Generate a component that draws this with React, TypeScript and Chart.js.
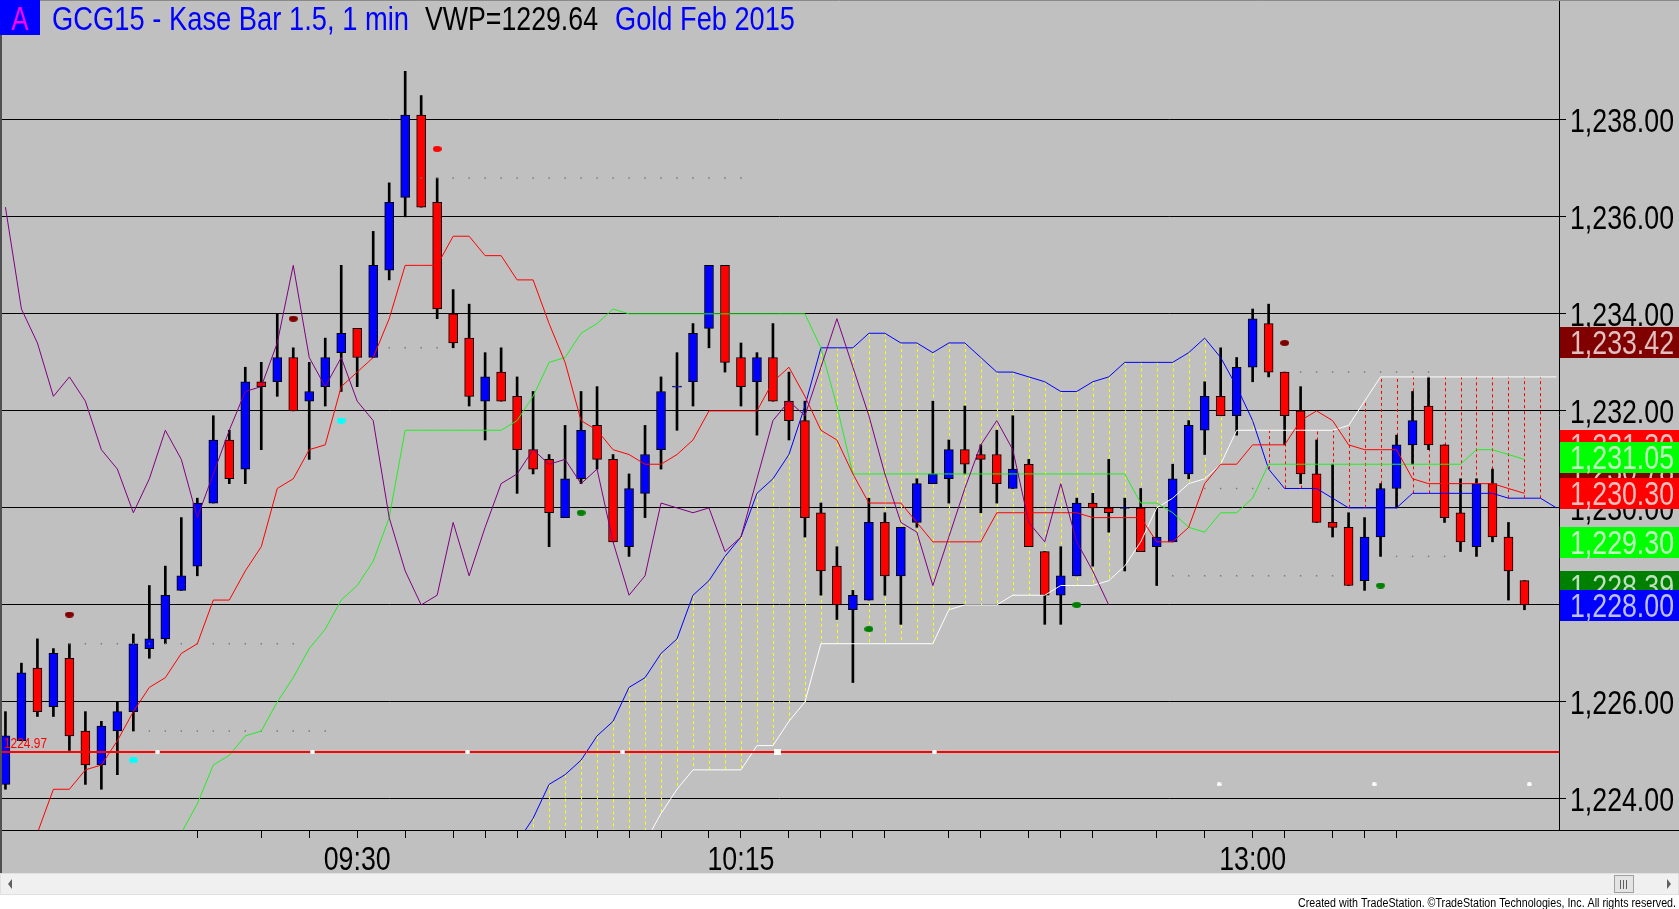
import React, { useEffect, useRef } from 'react';
import Chart from 'chart.js/auto';

const W = 1679;
const H = 909;
const FONT = "'Liberation Sans', Arial, sans-serif";

// Kase bars (one slot per bar index)
const opens = [
  1224.3, 1225.2, 1226.7, 1225.9, 1226.9, 1225.4, 1224.7, 1225.4, 1225.8, 1227.1,
  1227.3, 1228.3, 1228.8, 1230.1, 1231.4, 1230.8, 1232.6, 1232.6, 1233.1, 1232.2,
  1232.5, 1233.2, 1233.7, 1233.1, 1234.9, 1236.4, 1238.1, 1236.3, 1234.0, 1233.5,
  1232.2, 1232.8, 1232.3, 1231.2, 1231.0, 1229.8, 1230.6, 1231.7, 1231.0, 1229.2,
  1230.3, 1231.2, 1232.5, 1232.6, 1233.7, 1235.0, 1233.1, 1232.6, 1233.1, 1232.2,
  1231.8, 1229.9, 1228.8, 1227.9, 1228.1, 1229.7, 1228.6, 1229.7, 1230.5, 1230.6,
  1231.2, 1231.1, 1231.1, 1230.4, 1230.9, 1229.1, 1228.2, 1228.6, 1230.1, 1230.0,
  1230.0, 1230.0, 1229.2, 1229.3, 1230.7, 1231.6, 1232.3, 1231.9, 1232.9, 1233.8,
  1232.8, 1232.0, 1230.7, 1229.7, 1229.6, 1228.5, 1229.4, 1230.4, 1231.3, 1232.1,
  1231.3, 1229.9, 1229.2, 1230.5, 1229.4, 1228.5,
];
const highs = [
  1225.8, 1226.8, 1227.3, 1227.1, 1227.2, 1225.8, 1225.6, 1226.0, 1227.4, 1228.4,
  1228.8, 1229.8, 1230.2, 1231.9, 1231.6, 1232.9, 1233.0, 1234.0, 1233.3, 1233.0,
  1233.5, 1235.0, 1233.7, 1235.7, 1236.7, 1239.0, 1238.5, 1236.8, 1234.5, 1234.2,
  1233.2, 1233.3, 1232.7, 1232.4, 1231.1, 1231.7, 1232.4, 1232.5, 1231.1, 1230.7,
  1231.7, 1232.7, 1233.2, 1233.8, 1235.0, 1235.0, 1233.4, 1233.2, 1233.8, 1232.8,
  1232.2, 1230.1, 1229.2, 1228.3, 1230.2, 1229.9, 1229.6, 1230.6, 1232.2, 1231.4,
  1232.1, 1231.3, 1231.6, 1231.9, 1231.0, 1229.1, 1229.2, 1230.2, 1230.3, 1231.0,
  1230.2, 1230.4, 1230.0, 1230.9, 1231.8, 1232.6, 1233.3, 1233.1, 1234.1, 1234.2,
  1232.8, 1232.5, 1231.4, 1230.9, 1229.9, 1229.8, 1230.5, 1231.5, 1232.4, 1232.7,
  1231.3, 1230.6, 1230.6, 1230.8, 1229.7, 1228.5,
];
const lows = [
  1224.2, 1225.2, 1225.7, 1225.7, 1225.0, 1224.3, 1224.2, 1224.5, 1225.4, 1226.9,
  1227.2, 1228.3, 1228.6, 1230.1, 1230.5, 1230.5, 1231.2, 1232.3, 1232.0, 1231.0,
  1232.1, 1232.4, 1232.5, 1233.1, 1234.7, 1236.0, 1236.2, 1233.9, 1233.3, 1232.1,
  1231.4, 1232.2, 1230.3, 1230.7, 1229.2, 1229.8, 1230.5, 1230.8, 1229.3, 1229.0,
  1229.8, 1230.8, 1231.6, 1232.1, 1233.3, 1232.8, 1232.1, 1231.5, 1232.2, 1231.4,
  1229.4, 1228.2, 1227.7, 1226.4, 1228.1, 1228.2, 1227.6, 1229.6, 1230.5, 1230.1,
  1230.7, 1229.9, 1230.1, 1230.4, 1229.2, 1227.6, 1227.6, 1228.6, 1228.8, 1229.5,
  1228.7, 1229.1, 1228.4, 1229.3, 1230.6, 1231.1, 1231.9, 1231.5, 1232.6, 1232.7,
  1231.3, 1230.5, 1229.7, 1229.4, 1228.4, 1228.3, 1229.0, 1230.0, 1230.9, 1231.2,
  1229.7, 1229.1, 1229.0, 1229.3, 1228.1, 1227.9,
];
const closes = [
  1225.3, 1226.6, 1225.8, 1227.0, 1225.3, 1224.7, 1225.5, 1225.8, 1227.2, 1227.3,
  1228.2, 1228.6, 1230.1, 1231.4, 1230.6, 1232.6, 1232.5, 1233.1, 1232.0, 1232.4,
  1233.1, 1233.6, 1233.1, 1235.0, 1236.3, 1238.1, 1236.2, 1234.1, 1233.4, 1232.3,
  1232.7, 1232.2, 1231.2, 1230.8, 1229.9, 1230.6, 1231.6, 1231.0, 1229.3, 1230.4,
  1231.1, 1232.4, 1232.5, 1233.6, 1235.0, 1233.0, 1232.5, 1233.1, 1232.2, 1231.8,
  1229.8, 1228.7, 1228.0, 1228.2, 1229.7, 1228.6, 1229.6, 1230.5, 1230.7, 1231.2,
  1230.9, 1231.0, 1230.5, 1230.8, 1229.2, 1228.2, 1228.6, 1230.1, 1230.0, 1229.9,
  1230.0, 1229.1, 1229.4, 1230.6, 1231.7, 1232.3, 1231.9, 1232.9, 1233.9, 1232.8,
  1231.9, 1230.7, 1229.7, 1229.6, 1228.4, 1229.4, 1230.4, 1231.3, 1231.8, 1231.3,
  1229.8, 1229.3, 1230.5, 1229.4, 1228.7, 1228.0,
];

// indicator lines, each starting at bar "...From"
const purpleFrom = 0;
const purple = [
  1236.2, 1234.1, 1233.4, 1232.3, 1232.7, 1232.2, 1231.2, 1230.8, 1229.9, 1230.6,
  1231.6, 1231.0, 1229.8, 1230.7, 1231.6, 1232.4, 1232.5, 1233.4, 1235.0, 1233.1,
  1232.5, 1233.1, 1232.2, 1231.8, 1229.8, 1228.7, 1228.0, 1228.2, 1229.7, 1228.6,
  1229.6, 1230.5, 1230.7, 1231.2, 1230.9, 1231.0, 1230.5, 1230.8, 1229.3, 1228.2,
  1228.6, 1230.1, 1230.0, 1229.9, 1230.0, 1229.1, 1229.4, 1230.6, 1231.8, 1232.2,
  1231.9, 1232.9, 1233.9, 1232.9, 1231.9, 1230.7, 1229.7, 1229.5, 1228.4, 1229.4,
  1230.4, 1231.3, 1231.8, 1231.2, 1229.7, 1229.3, 1230.5, 1229.3, 1228.7, 1228.0,
];
const redFrom = 2;
const redLine = [
  1223.3, 1224.2, 1224.2, 1224.6, 1224.7, 1225.2, 1225.8, 1226.3,
  1226.5, 1227.0, 1227.2, 1228.1, 1228.1, 1228.7, 1229.2, 1230.4, 1230.6, 1231.2,
  1231.3, 1232.5, 1232.8, 1233.1, 1233.9, 1235.0, 1235.0, 1235.0, 1235.6, 1235.6,
  1235.2, 1235.2, 1234.7, 1234.7, 1233.8, 1233.0, 1231.8, 1231.6, 1231.2, 1231.1,
  1230.9, 1230.9, 1231.1, 1231.4, 1232.0, 1232.0, 1232.0, 1232.0, 1232.6, 1232.9,
  1232.3, 1231.6, 1231.4, 1230.7, 1230.1, 1230.1, 1230.1, 1229.7, 1229.3, 1229.3,
  1229.3, 1229.3, 1229.9, 1229.9, 1229.9, 1229.9, 1229.9, 1229.9, 1229.8, 1229.8,
  1229.8, 1229.8, 1229.3, 1229.3, 1229.6, 1230.5, 1230.9, 1230.9, 1231.3, 1231.3,
  1231.3, 1231.8, 1232.0, 1231.8, 1231.3, 1231.2, 1231.2, 1231.2, 1230.6, 1230.5,
  1230.5, 1230.5, 1230.5, 1230.5, 1230.4, 1230.3,
];
const greenFrom = 11;
const greenLine = [
  1223.3, 1223.9, 1224.7, 1224.9, 1225.3, 1225.4, 1226.0, 1226.5, 1227.1,
  1227.5, 1228.1, 1228.4, 1228.9, 1229.8, 1231.6, 1231.6, 1231.6, 1231.6, 1231.6,
  1231.6, 1231.6, 1231.8, 1232.3, 1233.0, 1233.1, 1233.6, 1233.8, 1234.1, 1234.0,
  1234.0, 1234.0, 1234.0, 1234.0, 1234.0, 1234.0, 1234.0, 1234.0, 1234.0, 1234.0,
  1234.0, 1233.3, 1232.1, 1230.7, 1230.7, 1230.7, 1230.7, 1230.7, 1230.7, 1230.7,
  1230.7, 1230.7, 1230.7, 1230.7, 1230.7, 1230.7, 1230.7, 1230.7, 1230.7, 1230.7,
  1230.7, 1230.1, 1230.1, 1229.9, 1229.6, 1229.5, 1229.9, 1229.9, 1230.2, 1230.9,
  1230.9, 1230.9, 1230.9, 1230.9, 1230.9, 1230.9, 1230.9, 1230.9, 1230.9, 1230.9,
  1230.9, 1230.9, 1231.2, 1231.2, 1231.1, 1231.0,
];
const blueFrom = 32;
const blueSpan = [
  1223.1, 1223.6, 1224.3, 1224.5, 1224.8, 1225.3, 1225.6, 1226.3,
  1226.5, 1227.0, 1227.3, 1228.2, 1228.5, 1229.0, 1229.4, 1230.3, 1230.6, 1231.1,
  1232.1, 1233.3, 1233.3, 1233.3, 1233.6, 1233.6, 1233.4, 1233.4, 1233.2, 1233.4,
  1233.4, 1233.1, 1232.8, 1232.8, 1232.7, 1232.6, 1232.4, 1232.4, 1232.6, 1232.7,
  1233.0, 1233.0, 1233.0, 1233.0, 1233.2, 1233.5, 1233.1, 1232.5, 1231.8, 1230.8,
  1230.4, 1230.4, 1230.4, 1230.2, 1230.0, 1230.0, 1230.0, 1230.0, 1230.3, 1230.3,
  1230.3, 1230.3, 1230.3, 1230.3, 1230.2, 1230.2, 1230.2, 1230.0,
];
const whiteFrom = 40;
const whiteSpan = [
  1223.1, 1223.7, 1224.2, 1224.6, 1224.6, 1224.6, 1224.6, 1225.1, 1225.1, 1225.6,
  1226.0, 1227.2, 1227.2, 1227.2, 1227.2, 1227.2, 1227.2, 1227.2, 1227.2, 1227.9,
  1228.0, 1228.0, 1228.0, 1228.2, 1228.2, 1228.2, 1228.4, 1228.4, 1228.4, 1228.5,
  1228.8, 1229.3, 1230.0, 1230.2, 1230.5, 1230.6, 1230.9, 1231.6, 1231.6, 1231.6,
  1231.6, 1231.6, 1231.6, 1231.6, 1231.7, 1232.2, 1232.7, 1232.7, 1232.7, 1232.7,
  1232.7, 1232.7, 1232.7, 1232.7, 1232.7, 1232.7, 1232.7, 1232.7,
];

// axes
const yTicks = [1224, 1226, 1228, 1230, 1232, 1234, 1236, 1238];
const xTickBars = [12, 16, 19, 22, 25, 28, 30, 32, 35, 37, 39, 41, 44, 46, 49, 51, 53, 55, 59, 61, 64, 66, 68, 72, 75, 78, 80, 83, 85, 87];
const timeLabelBars = [22, 46, 78];
const timeLabels = ['09:30', '10:15', '13:00'];

// horizontal level and its markers
const vwapLevel = 1224.97;
const sessionMarkBars = [9.5, 19.2, 28.9, 38.6, 58.1];
const sessionSquareBar = 48.3;
const lateMarkBars = [75.9, 85.6, 95.3];
const lateMarkPrice = 1224.3;

// signal dots
const darkRedDotBars = [4, 18, 80];
const darkRedDotPrices = [1227.8, 1233.9, 1233.4];
const redDotBars = [27];
const redDotPrices = [1237.4];
const greenDotBars = [36, 54, 67, 86];
const greenDotPrices = [1229.9, 1227.5, 1228.0, 1228.4];
const cyanDotBars = [8, 21];
const cyanDotPrices = [1224.8, 1231.8];

// faint dotted levels
const levelPrices = [1236.8, 1227.2, 1225.4, 1233.3, 1232.8, 1228.6, 1229.0, 1230.4];
const levelFrom = [26, 4, 9, 24, 81, 73, 87, 75];
const levelTo = [46, 18, 20, 27, 89, 83, 90, 79];

// price boxes on the right axis (drawing order)
const markValues = [1233.42, 1231.3, 1230.78, 1231.05, 1230.3, 1229.3, 1228.39, 1228.0];
const markColors = ['#800000', '#ff0000', '#800000', '#00ff00', '#ff0000', '#00ff00', '#008000', '#0000ff'];

const fmt = (v: number) => v.toLocaleString('en-US', { minimumFractionDigits: 2, maximumFractionDigits: 2 });

function pts(from: number, arr: number[]) {
  return arr.map((v, i) => ({ x: from + i, y: v }));
}

function valueAt(from: number, arr: number[], i: number) {
  const k = i - from;
  return k >= 0 && k < arr.length ? arr[k] : null;
}

function dot(color: string, w: number, h: number, square = false) {
  const c = document.createElement('canvas');
  c.width = w;
  c.height = h;
  const g = c.getContext('2d')!;
  g.fillStyle = color;
  if (square) {
    g.fillRect(0, 0, w, h);
  } else {
    g.beginPath();
    g.ellipse(w / 2, h / 2, w / 2, h / 2, 0, 0, Math.PI * 2);
    g.fill();
  }
  return c;
}

// TradeStation uses a narrow face; squeeze regular text to the measured width
function text(ctx: any, s: string, x: number, y: number, size: number, width: number, color: string, align = 'left') {
  ctx.font = `${size}px ${FONT}`;
  ctx.fillStyle = color;
  ctx.textAlign = align;
  ctx.textBaseline = 'alphabetic';
  ctx.fillText(s, x, y, width);
}

const chrome = {
  id: 'chrome',
  beforeDraw(chart: any) {
    const { ctx } = chart;
    ctx.save();
    ctx.fillStyle = '#c0c0c0';
    ctx.fillRect(0, 0, W, H);
    ctx.restore();
  },
  beforeDatasetsDraw(chart: any) {
    const { ctx, chartArea: a } = chart;
    const xs = chart.scales.x;
    const ys = chart.scales.y;
    ctx.save();
    ctx.beginPath();
    ctx.rect(a.left, a.top, a.right - a.left, a.bottom - a.top);
    ctx.clip();
    ctx.lineWidth = 1;
    ctx.setLineDash([3, 3]);
    const last = blueFrom + blueSpan.length - 1;
    for (let i = blueFrom; i < last; i++) {
      const b = valueAt(blueFrom, blueSpan, i);
      if (b == null) continue;
      const w = valueAt(whiteFrom, whiteSpan, i);
      const yb = ys.getPixelForValue(b);
      const yw = w == null ? a.bottom : ys.getPixelForValue(w);
      if (Math.abs(yb - yw) < 2) continue;
      ctx.strokeStyle = w == null || b > w ? '#ffff00' : '#ff0000';
      const x = Math.round(xs.getPixelForValue(i)) + 0.5;
      ctx.beginPath();
      ctx.moveTo(x, yb);
      ctx.lineTo(x, yw);
      ctx.stroke();
    }
    ctx.restore();
  },
  afterDraw(chart: any) {
    const { ctx, chartArea: a } = chart;
    const xs = chart.scales.x;
    const ys = chart.scales.y;
    ctx.save();

    // frame bits
    ctx.strokeStyle = '#000';
    ctx.lineWidth = 1;
    ctx.beginPath();
    ctx.moveTo(a.right, Math.round(a.bottom) + 0.5);
    ctx.lineTo(W, Math.round(a.bottom) + 0.5);
    ctx.stroke();
    ctx.strokeStyle = '#8a8a8a';
    ctx.beginPath();
    ctx.moveTo(0, 0.5);
    ctx.lineTo(W, 0.5);
    ctx.stroke();
    ctx.strokeStyle = '#505050';
    ctx.lineWidth = 2;
    ctx.beginPath();
    ctx.moveTo(1, 0);
    ctx.lineTo(1, 873);
    ctx.stroke();

    // axis labels from the scales' ticks
    ys.ticks.forEach((t: any) => {
      text(ctx, fmt(t.value), a.right + 11, ys.getPixelForValue(t.value) + 12, 33, 104, '#000');
    });
    xs.ticks.forEach((t: any) => {
      const k = timeLabelBars.indexOf(t.value);
      if (k >= 0) text(ctx, timeLabels[k], xs.getPixelForValue(t.value), 870, 33, 67, '#000', 'center');
    });

    // level label
    text(ctx, vwapLevel.toFixed(2), 4, ys.getPixelForValue(vwapLevel) - 4, 14, 43, '#ff0000');

    // price boxes
    markValues.forEach((v, k) => {
      const y = ys.getPixelForValue(v);
      ctx.fillStyle = markColors[k];
      ctx.fillRect(a.right + 1, Math.round(y) - 15, W - a.right - 1, 31);
      text(ctx, fmt(v), a.right + 11, y + 12, 33, 104, 'rgba(255,255,255,0.75)');
    });

    // title
    ctx.fillStyle = '#0000ff';
    ctx.fillRect(0, 0, 40, 35);
    text(ctx, 'A', 20, 30, 33, 17, '#ff00ff', 'center');
    text(ctx, 'GCG15 - Kase Bar 1.5, 1 min', 52, 30, 33, 357, '#0000ff');
    text(ctx, 'VWP=1229.64', 425, 30, 33, 173, '#000');
    text(ctx, 'Gold Feb 2015', 615, 30, 33, 180, '#0000ff');

    // scrollbar
    ctx.lineWidth = 1;
    ctx.fillStyle = '#f0f0f0';
    ctx.fillRect(0, 873, W, 22);
    ctx.strokeStyle = '#e0e0e0';
    ctx.strokeRect(0.5, 873.5, W - 1, 21);
    ctx.fillStyle = '#606060';
    ctx.beginPath();
    ctx.moveTo(12, 879);
    ctx.lineTo(8, 884);
    ctx.lineTo(12, 889);
    ctx.fill();
    ctx.beginPath();
    ctx.moveTo(W - 12, 879);
    ctx.lineTo(W - 8, 884);
    ctx.lineTo(W - 12, 889);
    ctx.fill();
    ctx.fillStyle = '#e4e4e4';
    ctx.fillRect(1614, 875, 20, 18);
    ctx.strokeStyle = '#a0a0a0';
    ctx.strokeRect(1614.5, 875.5, 19, 17);
    ctx.strokeStyle = '#606060';
    [1620.5, 1623.5, 1626.5].forEach((x) => {
      ctx.beginPath();
      ctx.moveTo(x, 880);
      ctx.lineTo(x, 889);
      ctx.stroke();
    });

    // footer
    ctx.fillStyle = '#ffffff';
    ctx.fillRect(0, 895, W, H - 895);
    text(ctx, 'Created with TradeStation. \u00A9TradeStation Technologies, Inc. All rights reserved.', W - 3, 907, 12, 378, '#000', 'right');
    ctx.restore();
  },
};

export default function App() {
  const canvasRef = useRef<HTMLCanvasElement>(null);

  useEffect(() => {
    document.body.style.margin = '0';
    if (!canvasRef.current) return;

    const idx = opens.map((_, i) => i);
    const bodies = idx.map((i) => {
      const lo = Math.min(opens[i], closes[i]);
      const hi = Math.max(opens[i], closes[i]);
      return { x: i, y: hi - lo < 0.02 ? [lo - 0.01, hi + 0.01] : [lo, hi] };
    });
    const wicks = idx.map((i) => ({ x: i, y: [lows[i], highs[i]] }));
    const bodyColors = idx.map((i) => (closes[i] >= opens[i] ? '#0000ff' : '#ff0000'));

    const levelPts: any[] = [];
    levelPrices.forEach((p, k) => {
      for (let b = levelFrom[k]; b <= levelTo[k]; b++) levelPts.push({ x: b, y: p });
    });

    const markers = (bars: number[], prices: number[], style: any, order = 0) => ({
      type: 'line',
      data: bars.map((b, k) => ({ x: b, y: prices[k] })),
      showLine: false,
      pointStyle: style,
      pointRadius: 3,
      order,
    });

    const line = (data: any[], color: string, width = 1, order = 2) => ({
      type: 'line',
      data,
      borderColor: color,
      borderWidth: width,
      pointRadius: 0,
      tension: 0,
      order,
    });

    const chart = new Chart(canvasRef.current, {
      type: 'bar',
      data: {
        datasets: [
          markers(darkRedDotBars, darkRedDotPrices, dot('#800000', 9, 6)),
          markers(redDotBars, redDotPrices, dot('#ff0000', 9, 6)),
          markers(greenDotBars, greenDotPrices, dot('#008000', 9, 6)),
          markers(cyanDotBars, cyanDotPrices, dot('#00ffff', 9, 6)),
          markers(sessionMarkBars, sessionMarkBars.map(() => vwapLevel), dot('#ffffff', 5, 4)),
          markers([sessionSquareBar], [vwapLevel], dot('#ffffff', 7, 6, true)),
          markers(lateMarkBars, lateMarkBars.map(() => lateMarkPrice), dot('#ffffff', 5, 4)),
          {
            type: 'line',
            data: levelPts,
            showLine: false,
            pointStyle: 'rect',
            pointRadius: 1,
            pointBackgroundColor: '#777777',
            pointBorderWidth: 0,
            order: 3,
          },
          line([{ x: -1, y: vwapLevel }, { x: 99, y: vwapLevel }], '#ff0000', 2, 1),
          line(pts(purpleFrom, purple), '#800080'),
          line(pts(redFrom, redLine), '#ff0000'),
          line(pts(greenFrom, greenLine), '#22ee22'),
          line(pts(blueFrom, blueSpan), '#0000ff'),
          line(pts(whiteFrom, whiteSpan), '#ffffff'),
          {
            type: 'bar',
            data: bodies,
            backgroundColor: bodyColors,
            borderColor: '#000000',
            borderWidth: 1,
            borderSkipped: false,
            barThickness: 9,
            grouped: false,
            order: 5,
          },
          {
            type: 'bar',
            data: wicks,
            backgroundColor: '#000000',
            borderWidth: 0,
            barThickness: 2,
            grouped: false,
            order: 6,
          },
        ] as any,
      },
      options: {
        responsive: false,
        animation: false,
        devicePixelRatio: 1,
        events: [],
        layout: { padding: 0, autoPadding: false },
        plugins: { legend: { display: false }, tooltip: { enabled: false } },
        scales: {
          x: {
            type: 'linear',
            min: -0.34,
            max: 97.16,
            offset: false,
            position: 'bottom',
            afterBuildTicks: (scale: any) => {
              scale.ticks = xTickBars.map((v) => ({ value: v }));
            },
            afterFit: (scale: any) => {
              scale.height = 79;
              scale.paddingLeft = 0;
              scale.paddingRight = 0;
            },
            grid: { drawOnChartArea: false, offset: false, color: '#000000', tickLength: 8 },
            border: { color: '#000000' },
            ticks: { display: false, autoSkip: false, maxRotation: 0 },
          },
          y: {
            type: 'linear',
            position: 'right',
            min: 1223.36,
            max: 1240.47,
            afterBuildTicks: (scale: any) => {
              scale.ticks = yTicks.map((v) => ({ value: v }));
            },
            afterFit: (scale: any) => {
              scale.width = 120;
              scale.paddingTop = 0;
              scale.paddingBottom = 0;
            },
            grid: { color: '#000000', tickLength: 7 },
            border: { color: '#000000' },
            ticks: { display: false },
          },
        },
      } as any,
      plugins: [chrome],
    });

    return () => {
      chart.destroy();
    };
  }, []);

  return <canvas ref={canvasRef} width={W} height={H} style={{ display: 'block', width: W, height: H }} />;
}
